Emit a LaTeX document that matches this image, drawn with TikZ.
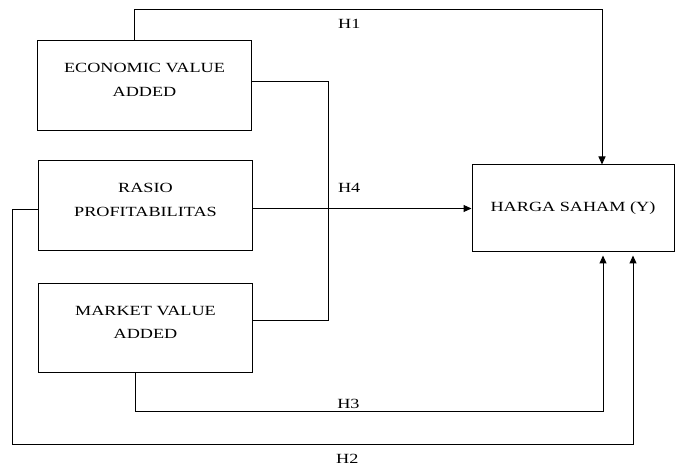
\documentclass[tikz,border=0pt]{standalone}
\usepackage{fontspec}
\setmainfont[FakeStretch=1.3]{Liberation Serif}
\usetikzlibrary{arrows.meta}
\newcommand{\boxtext}[2]{\raisebox{1.5pt}[0pt][0pt]{\begin{tabular}{@{}c@{}}#1\\[6.5pt]#2\end{tabular}}}

\begin{document}
\begin{tikzpicture}[x=1pt, y=1pt, line width=1pt, >={Triangle[length=8pt,width=7pt]},
		every node/.style={font=\fontsize{14}{17}\selectfont},
		varbox/.style={draw, minimum width=214pt, minimum height=90pt, inner sep=0pt}]
			\useasboundingbox (0,0) rectangle (675,466);
			\node[varbox] (eva) at (144.5,380) {\boxtext{ECONOMIC VALUE}{ADDED}};
			\node[varbox] (rasio) at (145.5,260) {\boxtext{RASIO}{PROFITABILITAS}};
			\node[varbox, minimum height=89pt] (mva) at (145.5,137.5) {\boxtext{MARKET VALUE}{ADDED}};
			\node[draw, minimum width=202pt, minimum height=87pt] (harga) at (573,257.5) {HARGA SAHAM (Y)};
			
			\draw[->] ([xshift=-10.5pt]eva.north) -- ++(0,31) -| node[pos=0.23, below=6pt] {H1} ([xshift=29pt]harga.north);
			\draw[->] (rasio.east |- harga.west) -- node[pos=0.44, above=12pt] {H4} (harga.west);
			\draw ([yshift=4pt]eva.east) -- ++(76,0) |- ([yshift=7.5pt]mva.east);
			\draw[->, shorten >=3pt] ([xshift=-10.5pt]mva.south) -- ++(0,-38.5) -| node[pos=0.228, above] {H3} ([xshift=30pt]harga.south);
			\draw[->, shorten >=3pt] ([yshift=-4pt]rasio.west) -- ++(-26,0) -- ++(0,-235) -| node[pos=0.27, below=5pt] {H2} ([xshift=60pt]harga.south);
				
		\end{tikzpicture}
\end{document}
